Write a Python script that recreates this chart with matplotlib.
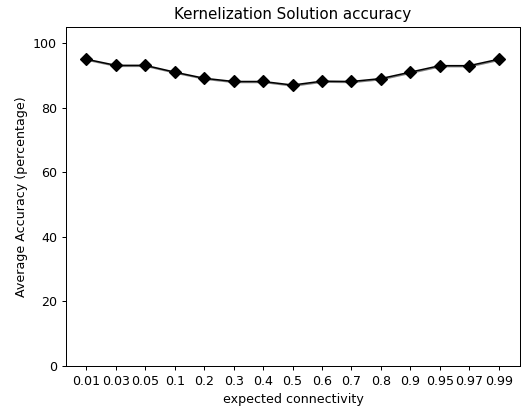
import matplotlib.pyplot as plt
import numpy as np

# Data
connectivity = ['0.01', '0.03', '0.05', '0.1', '0.2', '0.3', '0.4', '0.5',
                '0.6', '0.7', '0.8', '0.9', '0.95', '0.97', '0.99']
accuracy = [95.0, 93.1, 93.1, 91.0, 89.1, 88.1, 88.1, 87.0,
            88.2, 88.1, 89.0, 91.0, 93.0, 93.0, 95.0]

fig = plt.figure(figsize=(526 / 91, 408 / 91), dpi=91)
ax = fig.add_subplot(1, 1, 1)
fig.subplots_adjust(left=0.125, right=0.989, top=0.934, bottom=0.103)

x = np.arange(len(connectivity))
ax.plot(x + 0.03, np.array(accuracy) - 0.3, color='grey', linewidth=1.2)
ax.plot(x, accuracy, color='black', marker='D', markersize=7, linewidth=1.2)

ax.set_ylim(0, 105)
ax.set_xticks(x)
ax.set_xticklabels(connectivity)
ax.set_xlabel('expected connectivity')
ax.set_ylabel('Average Accuracy (percentage)')
ax.set_title('Kernelization Solution accuracy')

fig.savefig('out.png')
